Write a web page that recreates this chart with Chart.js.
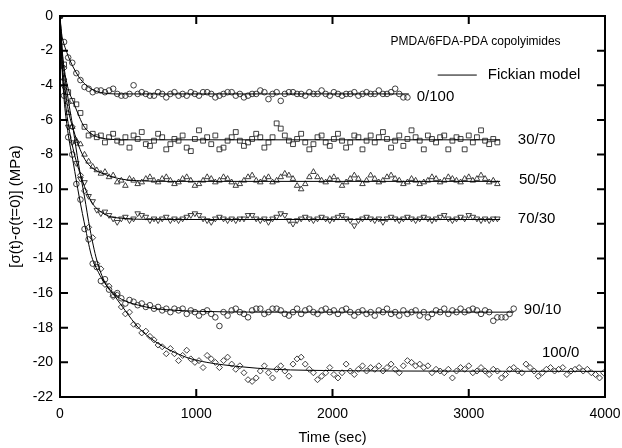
<!DOCTYPE html>
<html>
<head>
<meta charset="utf-8">
<script src="https://cdn.jsdelivr.net/npm/chart.js@4.4.0/dist/chart.umd.min.js"></script>
<style>
  html, body { margin: 0; padding: 0; background: #fff; }
  #wrap { width: 622px; height: 448px; }
</style>
</head>
<body>
<div id="wrap"><canvas id="stress" width="622" height="448"></canvas></div>
<script>
// sampling interval of the measured stress data (sec)
const sampleStep = 30;

const xTicks = [0, 1000, 2000, 3000, 4000];
const yTicks = [0, -2, -4, -6, -8, -10, -12, -14, -16, -18, -20, -22];

// measured stress change (MPa), one value every sampleStep seconds
const data0_100 = [0, -1.5, -2.4, -2.7, -3.3, -3.7, -4.1, -4.2, -4.4, -4.3, -4.3, -4.4, -4.3, -4.2, -4.5, -4.6, -4.6, -4.5, -4.0, -4.5,
  -4.4, -4.5, -4.6, -4.6, -4.4, -4.5, -4.7, -4.5, -4.4, -4.6, -4.5, -4.6, -4.4, -4.5, -4.6, -4.4, -4.4, -4.5, -4.7, -4.6,
  -4.5, -4.4, -4.4, -4.6, -4.5, -4.7, -4.6, -4.5, -4.5, -4.3, -4.4, -4.8, -4.5, -4.4, -4.9, -4.5, -4.4, -4.4, -4.5, -4.5,
  -4.6, -4.4, -4.5, -4.5, -4.3, -4.5, -4.6, -4.4, -4.5, -4.6, -4.5, -4.5, -4.4, -4.6, -4.5, -4.4, -4.5, -4.5, -4.3, -4.5,
  -4.5, -4.4, -4.2, -4.5, -4.7, -4.7];

const data30_70 = [0, -2.8, -4.4, -4.9, -5.1, -5.6, -6.4, -6.9, -6.8, -7.0, -6.9, -7.3, -7.0, -6.8, -7.2, -7.3, -7.0, -7.6, -6.9, -7.1,
  -6.7, -7.4, -7.5, -7.2, -6.8, -7.0, -7.7, -7.4, -7.1, -7.2, -6.9, -7.6, -7.8, -7.1, -6.6, -7.2, -7.0, -7.4, -6.9, -7.7,
  -7.6, -7.2, -7.0, -6.7, -7.2, -7.5, -7.3, -7.1, -6.8, -7.0, -7.6, -7.3, -7.0, -6.2, -6.5, -6.9, -7.2, -7.4, -7.1, -6.8,
  -7.3, -7.7, -7.4, -7.0, -6.9, -7.3, -7.5, -7.1, -6.8, -7.2, -7.6, -7.3, -6.9, -7.0, -7.7, -7.2, -6.9, -7.3, -7.0, -6.7,
  -7.1, -7.6, -7.2, -6.9, -7.5, -7.1, -6.6, -7.0, -7.2, -7.7, -6.9, -7.1, -7.3, -7.0, -6.9, -7.7, -7.2, -7.0, -7.1, -7.7,
  -6.9, -7.3, -7.0, -6.6, -7.2, -7.4, -7.1, -7.3];

const data50_50 = [0, -3.6, -5.6, -6.4, -7.2, -7.4, -8.0, -8.4, -8.7, -8.9, -9.1, -9.0, -9.3, -9.2, -9.6, -9.5, -9.8, -9.4, -9.5, -9.7,
  -9.6, -9.4, -9.3, -9.5, -9.6, -9.4, -9.3, -9.5, -9.7, -9.6, -9.4, -9.3, -9.5, -9.8, -9.7, -9.5, -9.3, -9.4, -9.6, -9.5,
  -9.3, -9.4, -9.6, -9.8, -9.7, -9.5, -9.3, -9.2, -9.5, -9.6, -9.4, -9.3, -9.6, -9.5, -9.3, -9.1, -9.2, -9.4, -9.8, -10.0,
  -9.7, -9.3, -9.0, -9.3, -9.5, -9.6, -9.4, -9.3, -9.5, -9.8, -9.6, -9.4, -9.2, -9.4, -9.7, -9.5, -9.2, -9.4, -9.6, -9.5,
  -9.3, -9.2, -9.4, -9.5, -9.7, -9.6, -9.4, -9.5, -9.7, -9.6, -9.5, -9.3, -9.4, -9.6, -9.5, -9.3, -9.4, -9.5, -9.6, -9.4,
  -9.3, -9.5, -9.4, -9.2, -9.4, -9.6, -9.5, -9.7];

const data70_30 = [0, -4.1, -6.4, -7.3, -8.5, -9.4, -9.6, -10.4, -10.7, -11.2, -11.4, -11.3, -11.5, -11.7, -11.9, -11.7, -11.6, -11.8, -11.7, -11.4,
  -11.5, -11.6, -11.8, -11.7, -11.8, -11.7, -11.6, -11.8, -11.7, -11.8, -11.7, -11.6, -11.5, -11.4, -11.5, -11.7, -11.8, -11.9, -11.7, -11.6,
  -11.7, -11.8, -11.7, -11.8, -11.7, -11.7, -11.5, -11.5, -11.7, -11.8, -11.7, -11.9, -11.7, -11.6, -11.4, -11.5, -11.8, -12.0, -11.8, -11.7,
  -11.6, -11.7, -11.8, -11.7, -11.6, -11.7, -11.8, -11.7, -11.6, -11.5, -11.7, -11.8, -12.1, -11.8, -11.7, -11.6, -11.7, -11.8, -11.7, -11.9,
  -11.7, -11.6, -11.7, -11.8, -11.7, -11.6, -11.7, -11.8, -11.7, -11.6, -11.7, -11.8, -11.7, -11.6, -11.5, -11.7, -11.8, -11.7, -11.6, -11.7,
  -11.5, -11.6, -11.7, -11.8, -11.7, -11.8, -11.7, -11.7];

const data90_10 = [0, -4.6, -7.0, -8.0, -9.7, -10.6, -12.3, -12.9, -14.3, -14.5, -15.3, -15.2, -15.8, -16.1, -16.0, -16.3, -16.6, -16.4, -16.5, -16.7,
  -16.6, -16.8, -16.7, -16.9, -16.8, -17.0, -16.9, -17.1, -16.9, -17.0, -16.9, -17.2, -17.0, -17.1, -17.3, -17.1, -17.0, -17.2, -17.4, -17.9,
  -17.1, -17.3, -17.0, -16.9, -17.1, -17.2, -17.4, -17.0, -16.9, -16.9, -17.2, -17.1, -16.9, -16.9, -17.0, -17.2, -17.3, -17.1, -16.9, -17.2,
  -17.0, -16.9, -17.1, -17.2, -17.0, -16.9, -17.1, -17.0, -17.2, -17.0, -16.9, -17.1, -17.3, -17.1, -17.0, -17.2, -17.1, -17.3, -17.0, -17.1,
  -16.9, -17.2, -17.1, -17.3, -17.0, -17.2, -17.1, -17.0, -17.3, -17.1, -17.4, -17.2, -17.0, -17.1, -16.9, -17.2, -17.0, -17.1, -16.9, -17.1,
  -17.0, -16.9, -17.0, -17.2, -17.0, -17.1, -17.6, -17.4, -17.4, -17.4, -17.2, -16.9];

const data100_0 = [0, -3.0, -5.0, -6.4, -7.3, -9.2, -10.1, -12.2, -12.8, -14.3, -14.6, -15.5, -15.6, -16.2, -16.1, -16.8, -17.2, -17.1, -17.8, -17.9,
  -18.3, -18.2, -18.5, -18.7, -19.0, -19.1, -19.5, -19.2, -19.5, -19.9, -19.6, -19.3, -19.8, -20.0, -19.9, -20.3, -19.6, -19.8, -20.0, -20.3,
  -19.9, -19.7, -20.1, -20.4, -20.2, -20.6, -21.0, -21.1, -20.9, -20.5, -20.2, -20.6, -20.9, -20.4, -20.2, -20.5, -20.8, -20.1, -19.8, -19.7,
  -20.1, -20.4, -20.6, -21.0, -20.8, -20.6, -20.3, -20.7, -20.9, -20.6, -20.1, -20.5, -20.7, -20.4, -20.2, -20.5, -20.3, -20.4, -20.2, -20.5,
  -20.3, -20.1, -20.4, -20.6, -20.2, -19.9, -20.0, -20.2, -20.1, -20.3, -20.2, -20.6, -20.4, -20.5, -20.6, -20.4, -20.9, -20.5, -20.3, -20.4,
  -20.2, -20.6, -20.5, -20.3, -20.5, -20.7, -20.4, -20.5, -20.9, -20.7, -20.4, -20.3, -20.5, -20.6, -20.1, -20.3, -20.5, -20.8, -20.6, -20.4,
  -20.3, -20.5, -20.4, -20.3, -20.7, -20.5, -20.4, -20.3, -20.5, -20.4, -20.6, -20.7, -20.9, -20.6];

// Fickian model curves: times (sec) and stress (MPa)
const model0_100T = [0, 10, 25, 50, 75, 100, 125, 150, 200, 250, 300, 400, 2560];
const model0_100Y = [0, -0.9, -1.5, -2.1, -2.6, -3.0, -3.35, -3.65, -4.05, -4.3, -4.42, -4.5, -4.5];

const model30_70T = [0, 15, 30, 60, 100, 130, 170, 220, 280, 350, 450, 3230];
const model30_70Y = [0, -2.0, -3.0, -4.2, -5.0, -5.6, -6.3, -6.75, -7.0, -7.1, -7.15, -7.15];

const model50_50T = [0, 15, 30, 60, 100, 135, 184, 233, 331, 453, 600, 800, 3230];
const model50_50Y = [0, -2.5, -3.8, -5.4, -6.6, -7.45, -8.3, -8.75, -9.15, -9.42, -9.52, -9.55, -9.55];

const model70_30T = [0, 15, 30, 60, 100, 160, 200, 250, 300, 355, 450, 600, 800, 3230];
const model70_30Y = [0, -2.8, -4.3, -6.2, -7.8, -9.4, -10.25, -10.95, -11.3, -11.55, -11.68, -11.74, -11.75, -11.75];

const model90_10T = [0, 15, 30, 56, 98, 140, 189, 233, 282, 331, 392, 450, 576, 700, 821, 1000, 1500, 3330];
const model90_10Y = [0, -3.0, -4.8, -6.6, -8.5, -10.4, -12.35, -13.9, -14.8, -15.45, -16.0, -16.35, -16.7, -16.9, -16.98, -17.05, -17.1, -17.1];

const model100_0T = [0, 25, 50, 98, 135, 179, 220, 270, 331, 404, 478, 576, 699, 821, 943, 1078, 1324, 1569, 2059, 2500, 4000];
const model100_0Y = [0, -2.8, -4.3, -6.6, -8.5, -10.4, -12.3, -14.1, -15.4, -16.2, -17.0, -18.0, -18.8, -19.35, -19.75, -20.0, -20.25, -20.4, -20.48, -20.5, -20.52];

const seriesNames = ['0/100', '30/70', '50/50', '70/30', '90/10', '100/0'];

function sampled(values) {
  return values.map((v, i) => ({ x: i * sampleStep, y: v }));
}
function paired(ts, ys) {
  return ts.map((t, i) => ({ x: t, y: ys[i] }));
}

const markerColor = '#2a2a2a';
function markers(label, values, style, extra) {
  return Object.assign({
    type: 'scatter',
    label: label,
    data: sampled(values),
    pointStyle: style,
    pointRadius: 2.8,
    pointBorderWidth: 0.9,
    pointBorderColor: markerColor,
    pointBackgroundColor: 'rgba(255,255,255,0)',
    showLine: false,
    order: 2
  }, extra || {});
}
function model(label, ts, ys) {
  return {
    type: 'line',
    label: label,
    data: paired(ts, ys),
    borderColor: '#000',
    borderWidth: 1,
    pointRadius: 0,
    cubicInterpolationMode: 'monotone',
    fill: false,
    order: 1
  };
}

const FONT = '"Liberation Sans", Arial, sans-serif';

const decorations = {
  id: 'decorations',
  afterDatasetsDraw(chart) {
    const { ctx, chartArea: a, scales: { x, y } } = chart;
    ctx.save();
    ctx.fillStyle = '#000';
    ctx.textBaseline = 'middle';
    ctx.textAlign = 'left';

    ctx.font = '12px ' + FONT;
    ctx.fillText('PMDA/6FDA-PDA copolyimides', x.getPixelForValue(2426), y.getPixelForValue(-1.48));

    // legend entry for the model line
    ctx.strokeStyle = '#000';
    ctx.lineWidth = 1;
    ctx.beginPath();
    ctx.moveTo(x.getPixelForValue(2772), y.getPixelForValue(-3.41));
    ctx.lineTo(x.getPixelForValue(3059), y.getPixelForValue(-3.41));
    ctx.stroke();
    ctx.font = '15px ' + FONT;
    ctx.fillText('Fickian model', x.getPixelForValue(3140), y.getPixelForValue(-3.41));

    // series labels
    const spots = [[2618, -4.66], [3360, -7.16], [3368, -9.47], [3360, -11.72], [3404, -16.96], [3537, -19.45]];
    seriesNames.forEach((name, i) => {
      ctx.fillText(name, x.getPixelForValue(spots[i][0]), y.getPixelForValue(spots[i][1]));
    });

    // frame and inward ticks
    ctx.lineWidth = 2;
    ctx.strokeRect(a.left, a.top, a.right - a.left, a.bottom - a.top);
    ctx.beginPath();
    xTicks.forEach(v => {
      const px = x.getPixelForValue(v);
      ctx.moveTo(px, a.bottom); ctx.lineTo(px, a.bottom - 8);
      ctx.moveTo(px, a.top); ctx.lineTo(px, a.top + 8);
    });
    yTicks.forEach(v => {
      const py = y.getPixelForValue(v);
      ctx.moveTo(a.left, py); ctx.lineTo(a.left + 8, py);
      ctx.moveTo(a.right, py); ctx.lineTo(a.right - 8, py);
    });
    ctx.stroke();
    ctx.restore();
  }
};

new Chart(document.getElementById('stress').getContext('2d'), {
  type: 'scatter',
  data: {
    datasets: [
      markers('0/100', data0_100, 'circle'),
      markers('30/70', data30_70, 'rect', { pointRadius: 3.4 }),
      markers('50/50', data50_50, 'triangle', { pointRadius: 3.2 }),
      markers('70/30', data70_30, 'triangle', { pointRadius: 3.2, pointRotation: 180 }),
      markers('90/10', data90_10, 'circle'),
      markers('100/0', data100_0, 'rectRot', { pointRadius: 3 }),
      model('0/100 model', model0_100T, model0_100Y),
      model('30/70 model', model30_70T, model30_70Y),
      model('50/50 model', model50_50T, model50_50Y),
      model('70/30 model', model70_30T, model70_30Y),
      model('90/10 model', model90_10T, model90_10Y),
      model('100/0 model', model100_0T, model100_0Y)
    ]
  },
  options: {
    responsive: false,
    animation: false,
    devicePixelRatio: 1,
    layout: { padding: { top: 16, right: 17, left: 0, bottom: 0 } },
    plugins: {
      legend: { display: false },
      tooltip: { enabled: false }
    },
    scales: {
      x: {
        type: 'linear',
        min: 0,
        max: 4000,
        afterBuildTicks: s => { s.ticks = xTicks.map(v => ({ value: v })); },
        ticks: { color: '#000', font: { size: 14, family: FONT }, padding: 9, maxRotation: 0, callback: v => String(v) },
        grid: { display: false, drawTicks: false },
        border: { display: false },
        title: { display: true, text: 'Time (sec)', color: '#000', font: { size: 14.5, family: FONT }, padding: { top: 0, bottom: 1 } },
        afterFit: s => { s.height = 51; s.paddingLeft = 0; s.paddingRight = 0; }
      },
      y: {
        type: 'linear',
        min: -22,
        max: 0,
        afterBuildTicks: s => { s.ticks = yTicks.map(v => ({ value: v })); },
        ticks: { color: '#000', font: { size: 14, family: FONT }, padding: 7, callback: v => String(v) },
        grid: { display: false, drawTicks: false },
        border: { display: false },
        title: { display: true, text: '[σ(t)-σ(t=0)] (MPa)', color: '#000', font: { size: 15, family: FONT }, padding: { top: 7, bottom: 0 } },
        afterFit: s => { s.width = 60; }
      }
    }
  },
  plugins: [decorations]
});
</script>
</body>
</html>
